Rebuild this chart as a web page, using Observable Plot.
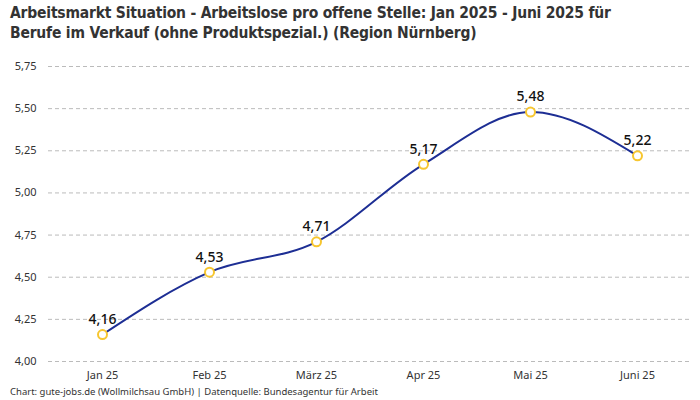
<!DOCTYPE html>
<html><head><meta charset="utf-8">
<script src="https://cdn.jsdelivr.net/npm/d3@7"></script>
<script src="https://cdn.jsdelivr.net/npm/@observablehq/plot@0.6"></script>
<style>
body{margin:0;background:#fff;font-family:"Noto Sans",sans-serif;}
#title{font-family:"DejaVu Sans",sans-serif;font-stretch:condensed;font-weight:bold;font-size:15.5px;line-height:20px;color:#333;padding:3px 0 0 10px;height:43px;box-sizing:border-box;letter-spacing:-0.2px;}
#cap{font-size:9.5px;color:#333;padding-left:10px;margin-top:0px;}
</style></head><body>
<div id="title">Arbeitsmarkt Situation - Arbeitslose pro offene Stelle: Jan 2025 - Juni 2025 für<br>Berufe im Verkauf (ohne Produktspezial.) (Region Nürnberg)</div>
<div id="chart"></div>
<div id="cap">Chart: gute-jobs.de (Wollmilchsau GmbH) | Datenquelle: Bundesagentur für Arbeit</div>
<script>
const months = ["Jan 25","Feb 25","März 25","Apr 25","Mai 25","Juni 25"];
const values = [4.16, 4.53, 4.71, 5.17, 5.48, 5.22];
const yTicks = [4.00, 4.25, 4.50, 4.75, 5.00, 5.25, 5.50, 5.75];
const data = months.map((m,i)=>({m, v: values[i]}));
const fmt = v => v.toFixed(2).replace(".", ",");
const chart = Plot.plot({
  width: 700, height: 342,
  marginLeft: 48, marginRight: 10, marginTop: 23, marginBottom: 24,
  style: {fontFamily: "Noto Sans, sans-serif", fontSize: "11px", color: "#333", background: "#fff"},
  x: {type: "point", domain: months, padding: 0.5, label: null, tickSize: 0, tickPadding: 10},
  y: {domain: [4, 5.75], ticks: yTicks, tickFormat: fmt, label: null, tickSize: 0, tickPadding: 12},
  marks: [
    Plot.gridY(yTicks, {stroke: "#bbb", strokeOpacity: 1, strokeDasharray: "4,3"}),
    Plot.axisY({ticks: yTicks, tickFormat: fmt, tickSize: 0, tickPadding: 12, label: null}),
    Plot.axisX({tickSize: 0, tickPadding: 10, label: null}),
    Plot.line(data, {x: "m", y: "v", curve: "monotone-x", stroke: "#1d2e94", strokeWidth: 2}),
    Plot.dot(data, {x: "m", y: "v", r: 4.5, fill: "#fff", stroke: "#f7c62f", strokeWidth: 2}),
    Plot.text(data, {x: "m", y: "v", text: d => fmt(d.v), dy: -15, fontSize: 14, fontWeight: 500, fill: "#111"})
  ]
});
document.getElementById("chart").appendChild(chart);
</script>
</body></html>
